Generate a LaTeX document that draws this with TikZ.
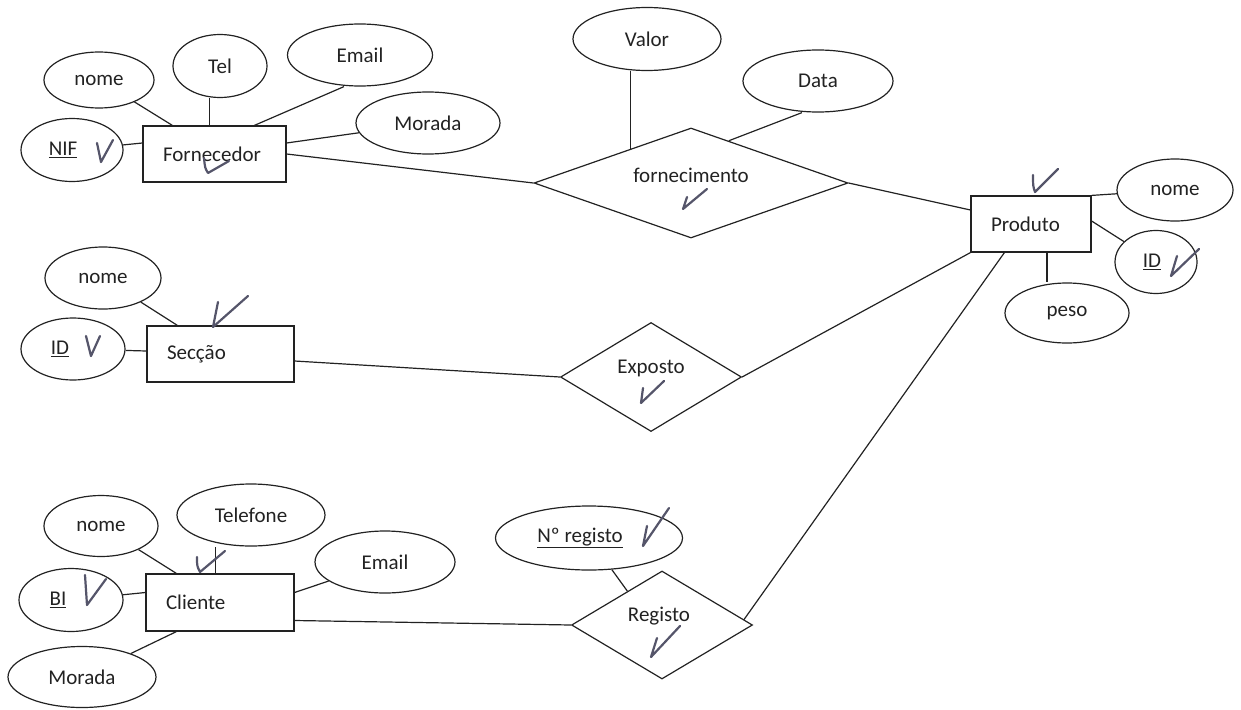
\documentclass[tikz,border=0pt]{standalone}
\usepackage{fontspec}
\setmainfont{Carlito}
\usetikzlibrary{shapes.geometric,calc}
\definecolor{ink}{HTML}{222222}
\definecolor{pen}{HTML}{55556A}
\begin{document}
\begin{tikzpicture}[x=1pt,y=-1pt,
  every node/.style={font=\fontsize{21}{25}\selectfont, text=ink},
  line/.style={draw=ink, line width=1.2pt},
  entity/.style={draw=ink, line width=1.2pt, rectangle, inner xsep=20pt, align=left, minimum height=56pt},
  attr/.style={draw=ink, line width=1.2pt, ellipse, inner sep=0pt},
  rel/.style={draw=ink, line width=1.2pt, diamond, inner sep=0pt},
  tick/.style={draw=pen, line width=2.2pt, line cap=round, line join=round}]
\useasboundingbox (0,0) rectangle (1241,709);

% Entities
\node[entity, text width=103pt] (F) at (214.5,154) {Fornecedor};
\node[entity, text width=80pt] (P) at (1031,224) {Produto};
\node[entity, text width=107pt] (S) at (220.5,354) {Secção};
\node[entity, text width=108pt, minimum height=57pt] (C) at (220,602.5) {Cliente};

% Relationships
\node[rel, minimum width=314pt, minimum height=110pt] (forn) at (691,183) {};
\node (fornT) at (691,175) {fornecimento};
\node[rel, minimum width=181pt, minimum height=109pt] (expo) at (651,377) {};
\node (expoT) at (651,368) {Exposto};
\node[rel, minimum width=181pt, minimum height=108pt] (reg) at (662,625) {};
\node (regT) at (659,616) {Registo};

% Attributes of Fornecedor
\node[attr, minimum width=110pt, minimum height=56pt] (nomeF) at (99,80) {nome};
\node[attr, minimum width=94pt, minimum height=63pt] (telF) at (220,66) {Tel};
\node[attr, minimum width=145pt, minimum height=62pt] (emailF) at (360,55) {Email};
\node[attr, minimum width=144pt, minimum height=62pt] (moradaF) at (428,123) {Morada};
\node[attr, minimum width=102pt, minimum height=63pt] (nif) at (72,150) {\underline{NIF}\hspace*{18pt}};

% Attributes of fornecimento
\node[attr, minimum width=148pt, minimum height=63pt] (valor) at (647,39) {Valor};
\node[attr, minimum width=150pt, minimum height=62pt] (data) at (818,81) {Data};

% Attributes of Produto
\node[attr, minimum width=116pt, minimum height=62pt] (nomeP) at (1175,190) {nome};
\node[attr, minimum width=82pt, minimum height=63pt] (idP) at (1156,262) {\underline{ID}\hspace*{8pt}};
\node[attr, minimum width=124pt, minimum height=60pt] (pesoP) at (1067,313) {peso};

% Attributes of Seccao
\node[attr, minimum width=116pt, minimum height=62pt] (nomeS) at (103,278) {nome};
\node[attr, minimum width=104pt, minimum height=62pt] (idS) at (73,349) {\underline{ID}\hspace*{26pt}};

% Attributes of Cliente
\node[attr, minimum width=114pt, minimum height=61pt] (nomeC) at (101,526) {nome};
\node[attr, minimum width=148pt, minimum height=62pt] (telC) at (251,515) {Telefone};
\node[attr, minimum width=140pt, minimum height=62pt] (emailC) at (385,562) {Email};
\node[attr, minimum width=104pt, minimum height=63pt] (bi) at (71,600) {\underline{BI}\hspace*{26pt}};
\node[attr, minimum width=148pt, minimum height=61pt] (moradaC) at (82,677) {Morada};

% Attribute of Registo
\node[attr, minimum width=187pt, minimum height=64pt] (nreg) at (589,538) {\underline{Nº registo}\hspace*{18pt}};

% Connectors: Fornecedor
\draw[line] (nomeF) -- ([xshift=30pt]F.north west);
\draw[line] ([xshift=67pt]F.north west) -- ([xshift=67pt]F.north west |- telF.south);
\draw[line] ([xshift=-16pt]emailF.south) -- ([xshift=112pt]F.north west);
\draw[line] (moradaF) -- ([yshift=11pt]F.east);
\draw[line] (nif) -- ([yshift=11pt]F.west);
\draw[line] (F.east) -- (forn.west);
\coordinate (fv) at ($(forn.west)!0.615!(forn.north)$);
\draw[line] (fv) -- (fv |- valor.south);
\draw[line] ([xshift=-16pt]data.south) -- ($(forn.north)!0.24!(forn.east)$);
\draw[line] (forn.east) -- ([yshift=14pt]P.west);

% Connectors: Produto
\draw[line] (P.north east) -- (nomeP);
\draw[line] ([yshift=3pt]P.east) -- (idP);
\draw[line] ([xshift=16pt]P.south) -- ([xshift=16pt]P.south |- pesoP.north);
\draw[line] (P.south west) -- (expo.east);
\draw[line] ([xshift=34pt]P.south west) -- ($(reg.east)!0.1!(reg.north)$);

% Connectors: Seccao
\draw[line] (nomeS) -- ([xshift=31pt]S.north west);
\draw[line] (idS) -- ([yshift=3pt]S.west);
\draw[line] ([yshift=-7pt]S.east) -- (expo.west);

% Connectors: Cliente
\draw[line] (nomeC) -- ([xshift=31pt]C.north west);
\draw[line] ([xshift=70pt]C.north west) -- ([xshift=70pt]C.north west |- telC.south);
\draw[line] (emailC) -- ([yshift=10pt]C.east);
\draw[line] (bi) -- ([yshift=10pt]C.west);
\draw[line] (moradaC) -- ([xshift=31pt]C.south west);
\draw[line] ([yshift=-18pt]C.east) -- (reg.west);
\draw[line] (nreg) -- ($(reg.north)!0.38!(reg.west)$);

% Handwritten check marks
\draw[tick] (97,143) -- (101,162) -- (113,140);
\draw[tick] (204,158) .. controls (205,168) .. (208,173) -- (229,161);
\draw[tick] (687,197) -- (683,209) -- (707,189);
\draw[tick] (1033,175) .. controls (1033,186) .. (1035,192) -- (1058,169);
\draw[tick] (1177,256) -- (1171,276) -- (1199,249);
\draw[tick] (218,302) -- (213,327) -- (248,296);
\draw[tick] (86,336) -- (91,356) -- (100,336);
\draw[tick] (643,388) -- (641,403) -- (664,381);
\draw[tick] (197,557) .. controls (197,566) .. (200,572) -- (225,551);
\draw[tick] (85,575) -- (87,605) -- (106,579);
\draw[tick] (647,526) -- (643,546) -- (669,508);
\draw[tick] (657,638) -- (651,657) -- (680,626);
\end{tikzpicture}
\end{document}
